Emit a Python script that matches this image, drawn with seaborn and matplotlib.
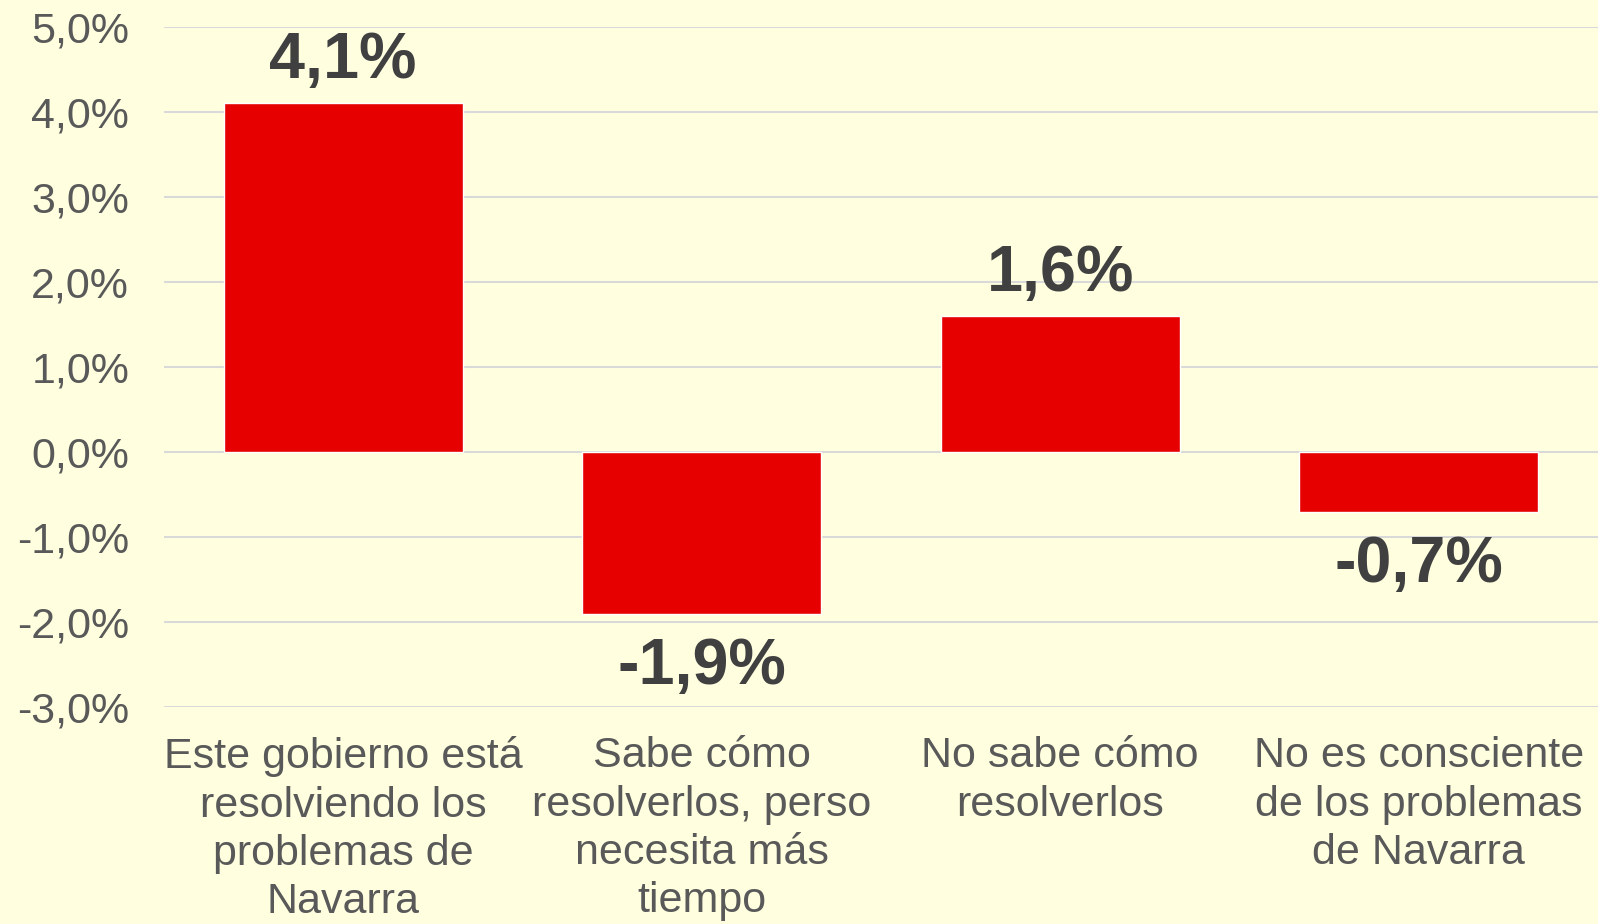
import matplotlib
matplotlib.use("Agg")
import matplotlib.pyplot as plt
from matplotlib.ticker import FuncFormatter, MultipleLocator
import seaborn as sns
import pandas as pd

# Datos
categorias = [
    "Este gobierno está\nresolviendo los\nproblemas de\nNavarra",
    "Sabe cómo\nresolverlos, perso\nnecesita más\ntiempo",
    "No sabe cómo\nresolverlos",
    "No es consciente\nde los problemas\nde Navarra",
]
valores = [4.1, -1.9, 1.6, -0.7]

FONDO = "#FFFFE0"
ROJO = "#E60000"

sns.set_theme(style="white")
plt.rcParams["font.family"] = ["Liberation Sans", "DejaVu Sans"]

df = pd.DataFrame({"categoria": categorias, "valor": valores})

fig = plt.figure(figsize=(15.98, 9.24), dpi=100, facecolor=FONDO)
ax = fig.add_axes([0.1026, 0.2348, 0.8974, 0.7360])
ax.set_facecolor(FONDO)

sns.barplot(data=df, x="categoria", y="valor", color=ROJO, width=0.667,
            saturation=1, ax=ax, zorder=3)

ax.set_ylim(-3, 5)
ax.set_xlim(-0.5, len(categorias) - 0.5)
ax.yaxis.set_major_locator(MultipleLocator(1))
ax.yaxis.set_major_formatter(FuncFormatter(lambda v, p: f"{v:.1f}%".replace(".", ",")))
ax.grid(axis="y", color="#D9D9D9", linewidth=1.5, zorder=0)
ax.set_axisbelow(True)
for s in ax.spines.values():
    s.set_visible(False)
ax.set_xlabel("")
ax.set_ylabel("")
ax.tick_params(axis="y", length=0, pad=25, labelsize=31, labelcolor="#595959")
ax.tick_params(axis="x", length=0, pad=21, labelsize=31, labelcolor="#595959")
for lbl in ax.get_xticklabels():
    lbl.set_linespacing(1.27)

# Etiquetas de valores
for i, v in enumerate(valores):
    txt = f"{v:.1f}%".replace(".", ",")
    if v >= 0:
        ax.annotate(txt, (i, v), xytext=(0, 9), textcoords="offset points",
                    ha="center", va="bottom", fontsize=46.5, fontweight="bold",
                    color="#404040")
    else:
        ax.annotate(txt, (i, v), xytext=(0, -17), textcoords="offset points",
                    ha="center", va="top", fontsize=46.5, fontweight="bold",
                    color="#404040")

fig.savefig("out.png", dpi=100, facecolor=FONDO)
